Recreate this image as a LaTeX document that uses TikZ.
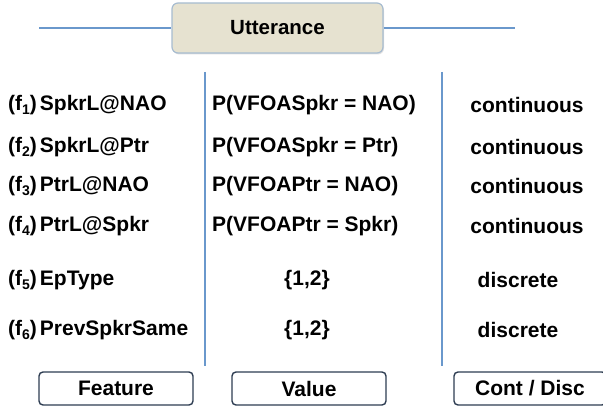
\documentclass[tikz,border=0pt]{standalone}
\usepackage{fontspec}
\setmainfont{Liberation Sans}
\usetikzlibrary{shadows}
\definecolor{linecol}{HTML}{6A98CC}
\definecolor{uttfill}{HTML}{E6E2D0}
\definecolor{uttdraw}{HTML}{A7BCD0}
\definecolor{boxdraw}{HTML}{2E3D52}
\tikzset{
  rowtext/.style={font=\fontsize{21}{25}\selectfont\bfseries, inner sep=0pt},
  divider/.style={draw=linecol, line width=1.8pt},
  labelbox/.style={draw=boxdraw, line width=1.4pt, rounded corners=4pt, fill=white,
    minimum width=154pt, minimum height=33pt, inner sep=0pt,
    font=\fontsize{21}{25}\selectfont\bfseries},
}
\newcommand{\fsub}[1]{(f\raisebox{-4pt}{\fontsize{14}{16}\selectfont #1})\hspace{3pt}}
\begin{document}
\begin{tikzpicture}[x=1pt,y=-1pt]
\useasboundingbox (0,0) rectangle (603,411);
% top
\node[draw=uttdraw, line width=1.2pt, fill=uttfill, rounded corners=6pt,
  minimum width=211pt, minimum height=50pt, inner sep=0pt,
  drop shadow={opacity=0.25, shadow xshift=1pt, shadow yshift=-1.5pt},
  font=\fontsize{20.5}{24}\selectfont\bfseries] (utt) at (277.5,28) {Utterance};
\coordinate (tl) at (39,28);
\coordinate (tr) at (515,28);
\draw[divider] (tl) -- (utt.west);
\draw[divider] (utt.east) -- (tr);
% dividers
\coordinate (d1t) at (205,72); \coordinate (d1b) at (205,366);
\coordinate (d2t) at (442,72); \coordinate (d2b) at (442,366);
\draw[divider] (d1t) -- (d1b);
\draw[divider] (d2t) -- (d2b);
% feature column
\node[rowtext, anchor=west] (f1) at (8,105) {\fsub{1}SpkrL@NAO};
\node[rowtext, anchor=west] (f2) at (8,147) {\fsub{2}SpkrL@Ptr};
\node[rowtext, anchor=west] (f3) at (8,186) {\fsub{3}PtrL@NAO};
\node[rowtext, anchor=west] (f4) at (8,226) {\fsub{4}PtrL@Spkr};
\node[rowtext, anchor=west] (f5) at (8,280) {\fsub{5}EpType};
\node[rowtext, anchor=west] (f6) at (8,330) {\fsub{6}PrevSpkrSame};
% value column
\node[rowtext, anchor=west] (v1) at (212,105) {P(VFOASpkr = NAO)};
\node[rowtext, anchor=west] (v2) at (212,147) {P(VFOASpkr = Ptr)};
\node[rowtext, anchor=west] (v3) at (212,186) {P(VFOAPtr = NAO)};
\node[rowtext, anchor=west] (v4) at (212,226) {P(VFOAPtr = Spkr)};
\node[rowtext] (v5) at (307,280) {\{1,2\}};
\node[rowtext] (v6) at (307,330) {\{1,2\}};
% cont/disc column
\node[rowtext] (c1) at (527,105) {continuous};
\node[rowtext] (c2) at (527,147) {continuous};
\node[rowtext] (c3) at (527,186) {continuous};
\node[rowtext] (c4) at (527,226) {continuous};
\node[rowtext] (c5) at (518,280) {discrete};
\node[rowtext] (c6) at (518,330) {discrete};
% bottom labels
\node[labelbox] (bf) at (116,388.5) {Feature};
\node[labelbox] (bv) at (309,388.5) {Value};
\node[labelbox, minimum width=152pt] (bc) at (530,388.5) {Cont / Disc};
\end{tikzpicture}
\end{document}
